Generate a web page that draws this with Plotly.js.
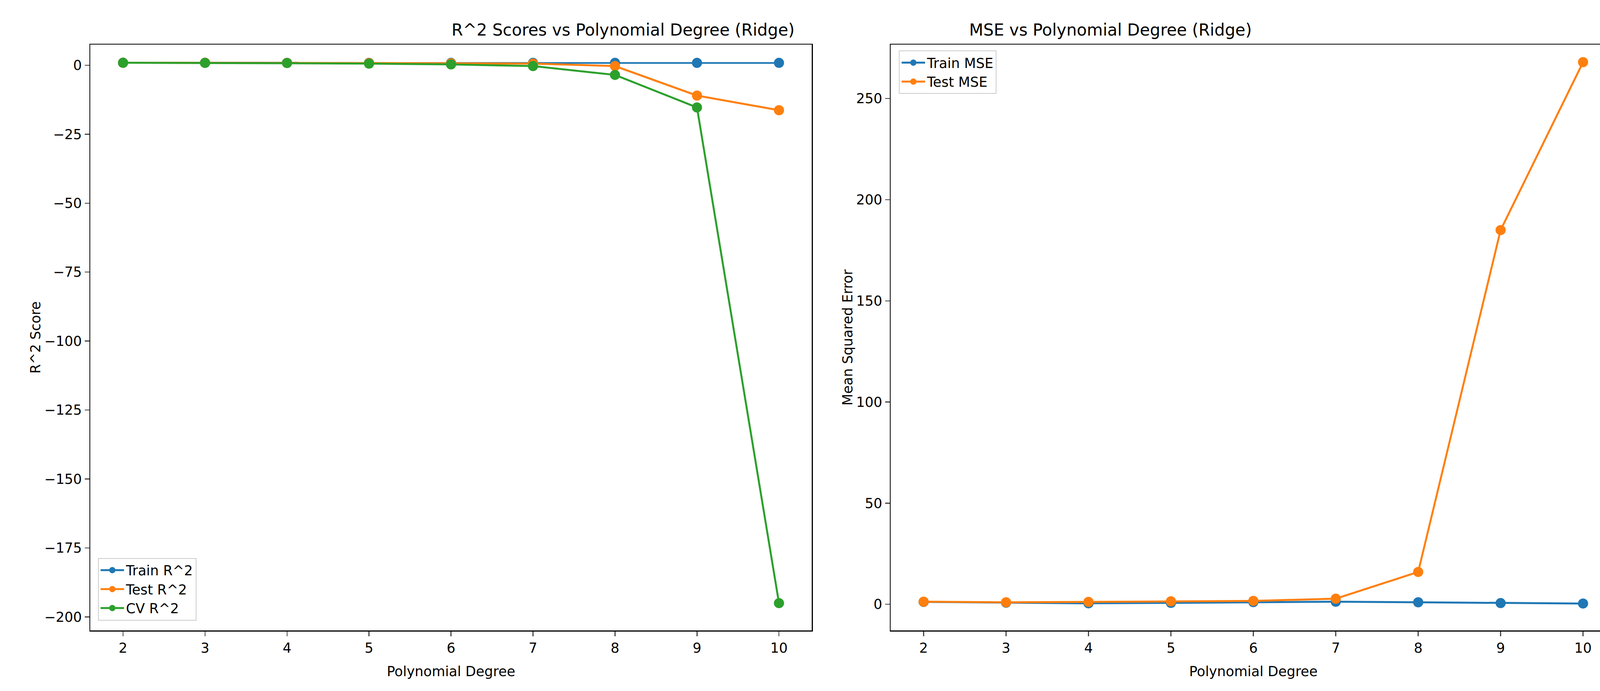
<!DOCTYPE html>
<html>
<head>
<meta charset="utf-8">
<script src="https://cdn.plot.ly/plotly-3.0.1.min.js"></script>
<style>body{margin:0;background:#fff}#chart{width:4167px;height:1768px}</style>
</head>
<body>
<div id="chart"></div>
<script>
const degrees = [2, 3, 4, 5, 6, 7, 8, 9, 10];
const trainR2 = [0.9, 0.9, 0.88, 0.87, 0.86, 0.86, 0.86, 0.86, 0.86];
const testR2 = [0.9, 0.9, 0.85, 0.8, 0.7, 0.6, -0.3, -11, -16.3];
const cvR2 = [0.9, 0.85, 0.8, 0.6, 0.3, -0.3, -3.5, -15.3, -195];
const trainMSE = [1.2, 0.8, 0.5, 0.7, 1.1, 1.3, 1.0, 0.6, 0.4];
const testMSE = [1.3, 1.0, 1.2, 1.5, 1.7, 2.8, 16, 185, 268];

const blue = "#1f77b4", orange = "#ff7f0e", green = "#2ca02c";
const font = {family: "DejaVu Sans", size: 35, color: "#000"};
const titleFont = {family: "DejaVu Sans", size: 42, color: "#000"};

function line(y, name, color, xa, ya) {
  return {x: degrees, y: y, name: name, type: "scatter", mode: "lines+markers",
    line: {color: color, width: 5}, marker: {color: color, size: 26},
    xaxis: xa, yaxis: ya, legend: xa === "x" ? "legend" : "legend2"};
}

const data = [
  line(trainR2, "Train R^2", blue, "x", "y"),
  line(testR2, "Test R^2", orange, "x", "y"),
  line(cvR2, "CV R^2", green, "x", "y"),
  line(trainMSE, "Train MSE", blue, "x2", "y2"),
  line(testMSE, "Test MSE", orange, "x2", "y2"),
];

const axisBase = {showline: true, mirror: true, linecolor: "#000", linewidth: 2.5,
  ticks: "outside", ticklen: 12, tickwidth: 2.5, showgrid: false, zeroline: false,
  tickfont: font, automargin: false};

const legendBase = {font: font, bgcolor: "rgba(255,255,255,0.8)", bordercolor: "#ccc",
  borderwidth: 2, itemwidth: 60};

const layout = {
  width: 4167, height: 1768, paper_bgcolor: "#fff", plot_bgcolor: "#fff",
  margin: {l: 231, r: 30, t: 114, b: 155, autoexpand: false}, font: font,
  xaxis: Object.assign({}, axisBase, {domain: [0, 0.4729], range: [1.6, 10.4],
    dtick: 1, title: {text: "Polynomial Degree", font: font}}),
  yaxis: Object.assign({}, axisBase, {range: [-204.9, 7.5], dtick: 25, tickformat: "d",
    title: {text: "R^2 Score", font: font}}),
  xaxis2: Object.assign({}, axisBase, {anchor: "y2", domain: [0.5246, 1],
    range: [1.6, 10.4], dtick: 1, title: {text: "Polynomial Degree", font: font}}),
  yaxis2: Object.assign({}, axisBase, {anchor: "x2",
    range: [-12.9, 276.7], dtick: 50, title: {text: "Mean Squared Error", font: font}}),
  legend: Object.assign({}, legendBase, {x: 0.005, y: 0.017, xanchor: "left", yanchor: "bottom"}),
  legend2: Object.assign({}, legendBase, {x: 0.53, y: 0.99, xanchor: "left", yanchor: "top"}),
  annotations: [
    {text: "R^2 Scores vs Polynomial Degree (Ridge)", x: 0.2363, y: 1.0427,
      xref: "paper", yref: "paper", showarrow: false, font: titleFont},
    {text: "MSE vs Polynomial Degree (Ridge)", x: 0.762, y: 1.0427,
      xref: "paper", yref: "paper", showarrow: false, font: titleFont},
  ],
};

Plotly.newPlot("chart", data, layout, {staticPlot: true});
</script>
</body>
</html>
